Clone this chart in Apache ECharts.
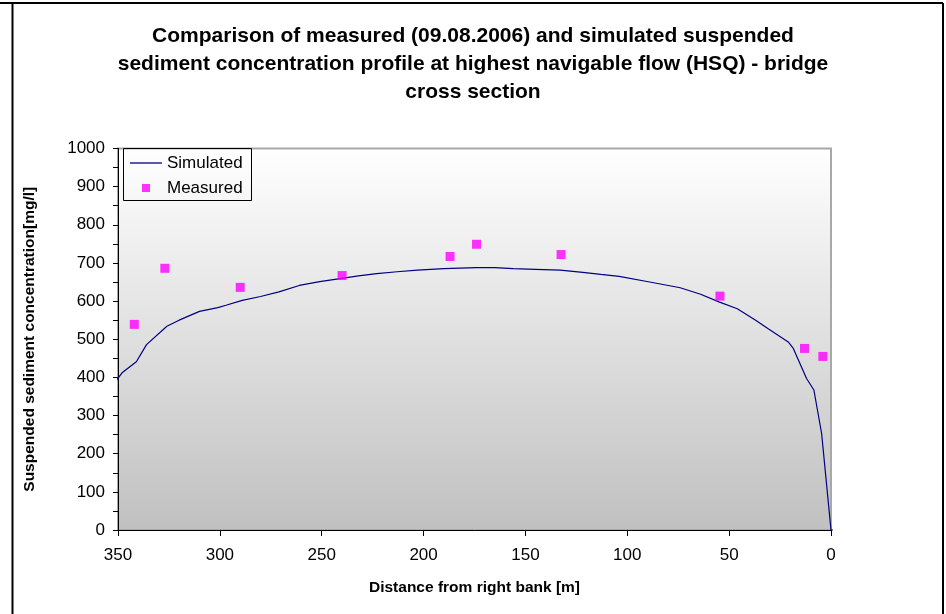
<!DOCTYPE html>
<html>
<head>
<meta charset="utf-8">
<script src="https://cdn.jsdelivr.net/npm/echarts@6/dist/echarts.min.js"></script>
<style>
  html, body { margin: 0; padding: 0; background: #fff; }
  #chart { width: 946px; height: 614px; }
</style>
</head>
<body>
<div id="chart"></div>
<script>
// Simulated profile: [distance from right bank (m), concentration (mg/l)]
const simulatedDistance = [352, 348, 341, 336, 326, 320, 310, 301, 297, 289, 280, 271, 261, 251, 241, 232, 223, 213, 203, 190, 174, 165, 156, 145, 133, 123, 113, 104, 89, 74, 64, 55, 46, 37, 31, 21, 18.5, 12, 8.4, 4.6, 0, -1.5];
const simulatedConc = [384, 412, 441, 486, 534, 550, 573, 583, 589, 602, 612, 624, 641, 651, 659, 666, 672, 677, 681, 685, 688, 688, 685, 683, 681, 676, 670, 665, 650, 635, 618, 598, 580, 550, 528, 493, 476, 397, 367, 253, 0, 0];

// Measured samples (09.08.2006)
const measuredDistance = [342, 327, 290, 240, 187, 174, 132.5, 54.5, 13, 4];
const measuredConc = [539, 686, 636, 667, 717, 749, 722, 613, 476, 455];

const xTicks = { min: 0, max: 350, interval: 50 };
const yTicks = { min: 0, max: 1000, interval: 100 };

const titleLines = [
  'Comparison of measured (09.08.2006) and simulated suspended',
  'sediment concentration profile at highest navigable flow (HSQ) - bridge',
  'cross section'
];

const font = 'Arial, "Liberation Sans", Helvetica, sans-serif';

const chart = echarts.init(document.getElementById('chart'), null, { renderer: 'canvas' });

chart.setOption({
  animation: false,
  backgroundColor: '#ffffff',
  grid: {
    left: 118, right: 115, top: 148.5, bottom: 84,
    show: true,
    borderColor: '#a8a8a8',
    borderWidth: 2,
    backgroundColor: {
      type: 'linear', x: 0, y: 0, x2: 0, y2: 1,
      colorStops: [
        { offset: 0, color: '#ffffff' },
        { offset: 1, color: '#c0c0c0' }
      ]
    }
  },
  legend: {
    orient: 'vertical',
    left: 130, top: 154,
    padding: 0,
    itemWidth: 32, itemHeight: 8,
    itemGap: 7,
    textStyle: { fontFamily: font, fontSize: 17, color: '#000', lineHeight: 18 },
    data: [
      { name: 'Simulated', icon: 'path://M0,0h32v1.3h-32z' },
      { name: 'Measured', icon: 'path://M0,0h8v8h-8z' }
    ]
  },
  xAxis: {
    type: 'value',
    inverse: true,
    min: xTicks.min, max: xTicks.max, interval: xTicks.interval,
    name: 'Distance from right bank [m]',
    nameLocation: 'middle',
    nameGap: 50,
    nameTextStyle: { fontFamily: font, fontSize: 15.5, fontWeight: 'bold', color: '#000', verticalAlign: 'top' },
    axisLine: { show: true, onZero: false, lineStyle: { color: '#000', width: 1 } },
    axisTick: { show: true, inside: false, length: 6, lineStyle: { color: '#000' } },
    axisLabel: { fontFamily: font, fontSize: 17, color: '#000', margin: 17 },
    splitLine: { show: false }
  },
  yAxis: {
    type: 'value',
    position: 'left',
    min: yTicks.min, max: yTicks.max, interval: yTicks.interval,
    name: 'Suspended sediment concentration[mg/l]',
    nameLocation: 'middle',
    nameGap: 80,
    nameTextStyle: { fontFamily: font, fontSize: 15.5, fontWeight: 'bold', color: '#000' },
    axisLine: { show: true, onZero: false, lineStyle: { color: '#000', width: 1 } },
    axisTick: { show: true, inside: false, length: 5, lineStyle: { color: '#000' } },
    minorTick: { show: true, splitNumber: 2, length: 5, lineStyle: { color: '#000' } },
    axisLabel: { fontFamily: font, fontSize: 17, color: '#000', margin: 13, formatter: v => String(v) },
    splitLine: { show: false }
  },
  graphic: [
    // outer frame
    { type: 'polyline', silent: true, shape: { points: [[0, 3], [943, 3]] }, style: { stroke: '#000', lineWidth: 2 } },
    { type: 'polyline', silent: true, shape: { points: [[12.5, 3], [12.5, 614]] }, style: { stroke: '#000', lineWidth: 2 } },
    { type: 'polyline', silent: true, shape: { points: [[943, 3], [943, 614]] }, style: { stroke: '#000', lineWidth: 2 } },
    // legend box
    { type: 'rect', silent: true, z: 5, shape: { x: 123.5, y: 148.5, width: 128, height: 52 }, style: { fill: 'rgba(255,255,255,0)', stroke: '#000', lineWidth: 1 } },
    // title
    {
      type: 'text', left: 'center', top: 22,
      style: {
        text: titleLines.join('\n'),
        x: 0, y: 0,
        textAlign: 'center',
        font: 'bold 21px ' + font,
        lineHeight: 28,
        fill: '#000'
      }
    }
  ],
  series: [
    {
      name: 'Simulated',
      type: 'line',
      clip: false,
      symbol: 'none',
      smooth: false,
      lineStyle: { color: '#000080', width: 1.2 },
      itemStyle: { color: '#000080' },
      data: simulatedDistance.map((d, i) => [d, simulatedConc[i]]),
      z: 3
    },
    {
      name: 'Measured',
      type: 'scatter',
      symbol: 'rect',
      symbolSize: 9,
      itemStyle: { color: '#ff00ff' },
      data: measuredDistance.map((d, i) => [d, measuredConc[i]]),
      z: 4
    }
  ]
});
</script>
</body>
</html>
